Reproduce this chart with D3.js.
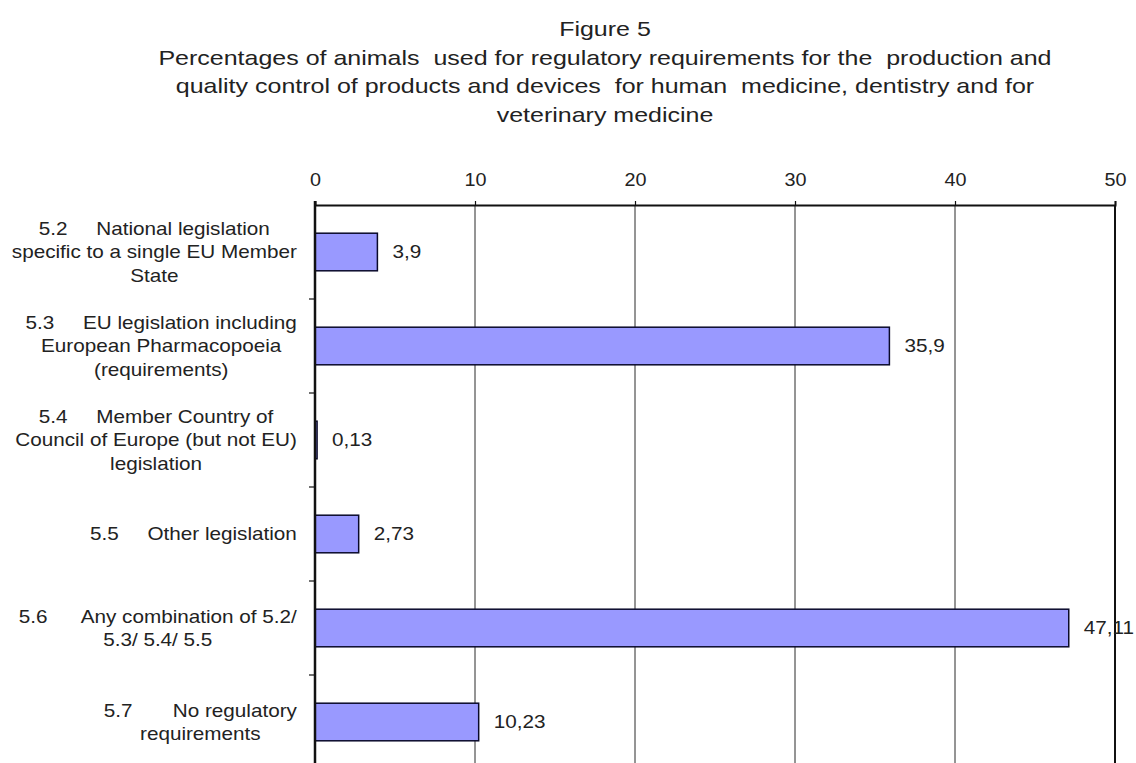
<!DOCTYPE html>
<html>
<head>
<meta charset="utf-8">
<script src="https://cdn.jsdelivr.net/npm/d3@7/dist/d3.min.js"></script>
<style>
  html, body { margin: 0; padding: 0; background: #fff; }
  svg { display: block; }
  text { font-family: Arial, "Liberation Sans", sans-serif; fill: #222; }
</style>
</head>
<body>
<svg id="chart" width="1136" height="763"></svg>
<script>
// Title lines
const titleLines = [
  "Figure 5",
  "Percentages of animals  used for regulatory requirements for the  production and",
  "quality control of products and devices  for human  medicine, dentistry and for",
  "veterinary medicine"
];

// Category labels (each entry is the list of wrapped lines)
const categories = [
  ["5.2     National legislation", "specific to a single EU Member", "State"],
  ["5.3     EU legislation including", "European Pharmacopoeia", "(requirements)"],
  ["5.4     Member Country of", "Council of Europe (but not EU)", "legislation"],
  ["5.5     Other legislation"],
  ["5.6      Any combination of 5.2/", "5.3/ 5.4/ 5.5"],
  ["5.7       No regulatory", "requirements"]
];

// Percentages per category
const values = [3.9, 35.9, 0.13, 2.73, 47.11, 10.23];

// Axis ticks
const xTicks = [0, 10, 20, 30, 40, 50];

// The lettering is set in a slightly wide face: stretch glyphs horizontally
const stretch = 1.15;
const titleStretch = 1.19;

function widen(sel, s) {
  sel.attr("transform", function () {
    const x0 = +this.getAttribute("x") || 0;
    return `translate(${x0},0) scale(${s},1) translate(${-x0},0)`;
  });
}

const svg = d3.select("#chart");

const plot = { left: 315, right: 1115, top: 205, bottom: 769 };

const x = d3.scaleLinear().domain([0, 50]).range([plot.left, plot.right]);
const keys = categories.map((c, i) => i);
const y = d3.scaleBand().domain(keys).range([plot.top, plot.bottom])
  .paddingInner(0.6).paddingOuter(0.3);

// Title
svg.append("g").selectAll("text").data(titleLines).join("text")
  .attr("x", 605)
  .attr("y", (d, i) => 36.5 + i * 28.5)
  .attr("text-anchor", "middle")
  .style("font-size", "21px")
  .style("white-space", "pre")
  .text(d => d)
  .call(widen, titleStretch);

// Vertical gridlines
svg.append("g").selectAll("line").data(xTicks.slice(1, -1)).join("line")
  .attr("x1", d => x(d)).attr("x2", d => x(d))
  .attr("y1", plot.top).attr("y2", plot.bottom)
  .attr("stroke", "#2a2a2a").attr("stroke-width", 1);

// Top axis
const xAxis = d3.axisTop(x).tickValues(xTicks).tickSize(4).tickPadding(15)
  .tickFormat(d3.format("d"));
const gx = svg.append("g").attr("transform", `translate(0,${plot.top})`).call(xAxis);
gx.select(".domain").attr("stroke", "#111").attr("stroke-width", 2);
gx.selectAll(".tick line").attr("stroke", "#111").attr("stroke-width", 1.2);
gx.selectAll(".tick text")
  .style("font-size", "18px")
  .style("font-family", "Arial, 'Liberation Sans', sans-serif")
  .attr("fill", "#222")
  .call(widen, 1.1);

// Right frame line
svg.append("line")
  .attr("x1", x(50)).attr("x2", x(50))
  .attr("y1", plot.top).attr("y2", plot.bottom)
  .attr("stroke", "#111").attr("stroke-width", 2);

// Bars
svg.append("g").selectAll("rect").data(values).join("rect")
  .attr("x", x(0))
  .attr("y", (d, i) => y(i))
  .attr("width", d => x(d) - x(0))
  .attr("height", y.bandwidth())
  .attr("fill", "#9999ff")
  .attr("stroke", "#0a0a2a")
  .attr("stroke-width", 1.5);

// Left axis with ticks at category boundaries
const step = y.step();
const boundaries = d3.range(1, categories.length + 1).map(k => plot.top + k * step);
svg.append("g").selectAll("line").data(boundaries).join("line")
  .attr("x1", plot.left - 6).attr("x2", plot.left)
  .attr("y1", d => d).attr("y2", d => d)
  .attr("stroke", "#111").attr("stroke-width", 1.2);
svg.append("line")
  .attr("x1", plot.left).attr("x2", plot.left)
  .attr("y1", plot.top - 4).attr("y2", plot.bottom)
  .attr("stroke", "#111").attr("stroke-width", 2.5);

// Value labels
svg.append("g").selectAll("text").data(values).join("text")
  .attr("x", d => x(d) + 15)
  .attr("y", (d, i) => y(i) + y.bandwidth() / 2)
  .attr("dy", "0.35em")
  .style("font-size", "18px")
  .text(d => String(d).replace(".", ","))
  .call(widen, stretch);

// Category labels: block right-aligned, lines centred within the block
const lineH = 23.5;
const labelRight = 297;
categories.forEach((lines, i) => {
  const g = svg.append("g");
  const cy = y(i) + y.bandwidth() / 2;
  const t = g.selectAll("text").data(lines).join("text")
    .attr("text-anchor", "middle")
    .style("font-size", "18px")
    .style("white-space", "pre")
    .attr("y", (d, j) => cy + (j - (lines.length - 1) / 2) * lineH)
    .attr("dy", "0.35em")
    .text(d => d);
  const w = d3.max(t.nodes(), n => n.getComputedTextLength()) * stretch;
  t.attr("x", labelRight - w / 2).call(widen, stretch);
});
</script>
</body>
</html>
